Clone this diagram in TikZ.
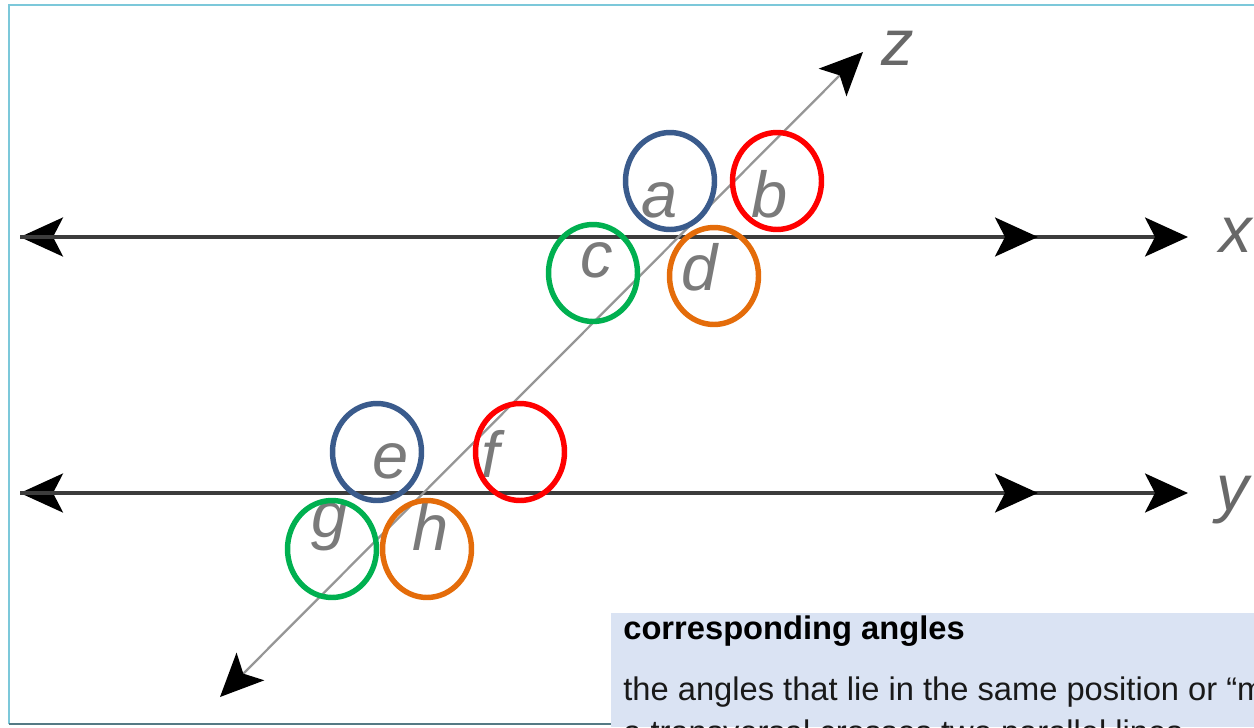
\documentclass[tikz,border=0pt]{standalone}
\usepackage{fontspec}
\setmainfont{Liberation Sans}
\usetikzlibrary{arrows.meta,shapes.geometric}

\definecolor{ringblue}{HTML}{3A5B8C}
\definecolor{ringred}{HTML}{FF0000}
\definecolor{ringgreen}{HTML}{00B050}
\definecolor{ringorange}{HTML}{E46C0A}
\definecolor{boxfill}{HTML}{DAE3F3}
\definecolor{framecyan}{HTML}{7CC8DA}
\definecolor{frameslate}{HTML}{557A84}
\definecolor{lettergray}{HTML}{7A7A7A}

\tikzset{
  bighead/.tip={Stealth[length=0.86cm,width=0.78cm,inset=0.2cm,color=black]},
  parline/.style={draw={rgb,255:red,60;green,60;blue,60}, line width=2pt},
  transline/.style={draw={rgb,255:red,150;green,150;blue,150}, line width=1.3pt},
  anglering/.style={draw=#1, ellipse, line width=3.1pt, inner sep=0pt,
    minimum width=1.78cm, minimum height=1.94cm},
  anglelbl/.style={text=lettergray, anchor=base, inner sep=0pt,
    font=\fontsize{37}{44}\selectfont\itshape},
}

\begin{document}
\begin{tikzpicture}[x=0.02cm, y=-0.02cm]
    \useasboundingbox (0,0) rectangle (1254,727);

    % Frame
    \draw[framecyan, line width=1.2pt] (9,724) -- (9,5) -- (1254,5);
    \draw[frameslate, line width=1.6pt] (9,724) -- (611,724);

    % Ends of the lines
    \coordinate (xl) at (20,237);
    \coordinate (xm) at (1038,237);
    \coordinate (xr) at (1188,237);
    \coordinate (yl) at (20,493);
    \coordinate (ym) at (1038,493);
    \coordinate (yr) at (1188,493);
    \coordinate (zl) at (220,697);
    \coordinate (zr) at (863,52);

    % Parallel lines x and y
    \draw[parline, bighead-bighead] (xl) -- (xr);
    \draw[parline, -bighead] (xl) -- (xm);
    \draw[parline, bighead-bighead] (yl) -- (yr);
    \draw[parline, -bighead] (yl) -- (ym);

    % Transversal z
    \draw[transline, bighead-bighead] (zl) -- (zr);

    % Line names
    \node[anglelbl, text=lettergray!85!black] (xname) at (1236,252) {x};
    \node[anglelbl, text=lettergray!85!black] (yname) at (1233,510) {y};
    \node[anglelbl, text=lettergray!85!black] (zname) at (898,65) {z};

    % Angle letters
    \node[anglelbl] (a) at (660,217) {a};
    \node[anglelbl] (b) at (770,217) {b};
    \node[anglelbl] (c) at (597,277) {c};
    \node[anglelbl] (d) at (700,290) {d};
    \node[anglelbl] (e) at (391,478) {e};
    \node[anglelbl] (f) at (491,477) {f};
    \node[anglelbl] (g) at (330,537) {g};
    \node[anglelbl] (h) at (431,550) {h};

    % Rings round corresponding angles
    \node[anglering=ringblue] (ra) at (670,181) {};
    \node[anglering=ringred] (rb) at (777,181) {};
    \node[anglering=ringgreen] (rc) at (593,273) {};
    \node[anglering=ringorange] (rd) at (714,276) {};
    \node[anglering=ringblue] (re) at (377,452) {};
    \node[anglering=ringred] (rf) at (520,452) {};
    \node[anglering=ringgreen] (rg) at (332,549) {};
    \node[anglering=ringorange] (rh) at (427,549) {};

    % Definition box
    \begin{scope}
      \clip (611,613) rectangle (1254,727);
      \fill[boxfill] (611,613) rectangle (1254,727);
      \node[anchor=base west, inner sep=0pt, font=\fontsize{18.6}{22}\selectfont\bfseries]
        (term) at (623,639) {corresponding angles};
      \node[anchor=base west, inner sep=0pt, text={rgb,255:red,25;green,25;blue,25},
        font=\fontsize{18.6}{22}\selectfont]
        (defone) at (623,700) {the angles that lie in the same position or “match up” when};
      \node[anchor=base west, inner sep=0pt, text={rgb,255:red,25;green,25;blue,25},
        font=\fontsize{18.6}{22}\selectfont]
        (deftwo) at (623,743) {a transversal crosses two parallel lines.};
    \end{scope}
\end{tikzpicture}
\end{document}
